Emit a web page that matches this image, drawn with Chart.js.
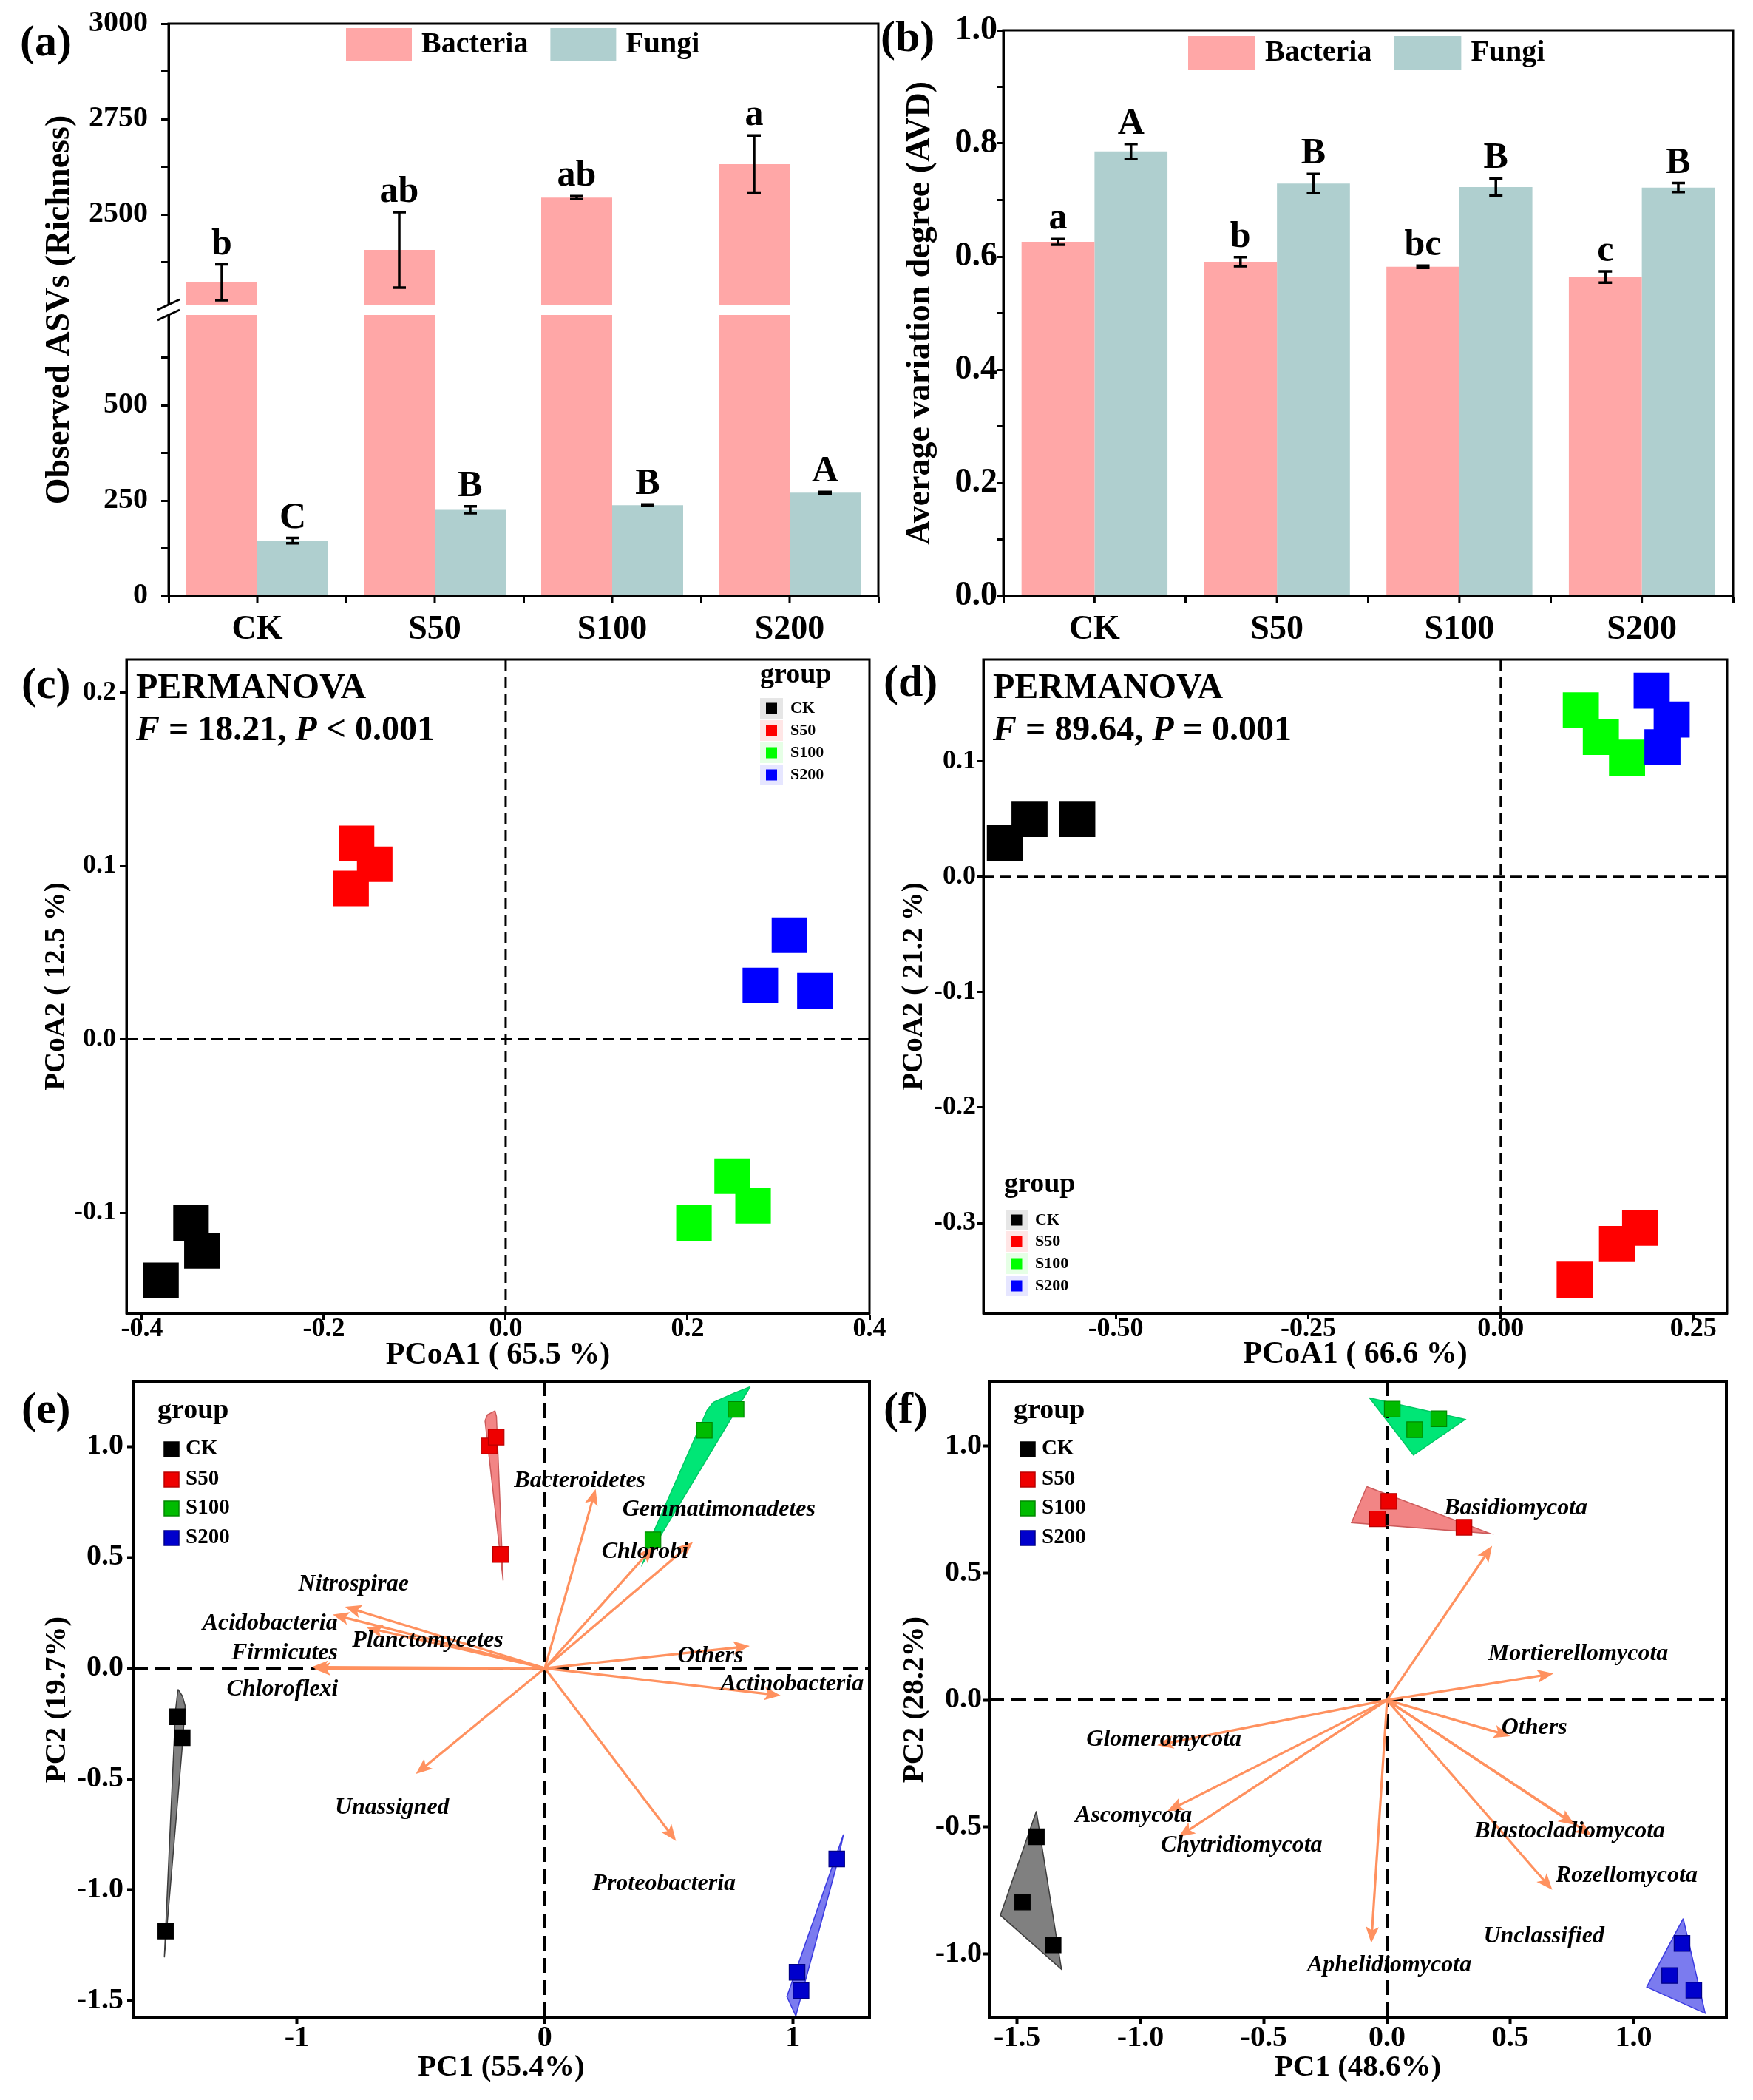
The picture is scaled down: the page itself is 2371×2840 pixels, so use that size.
<!DOCTYPE html>
<html>
<head>
<meta charset="utf-8">
<title>Bacteria and fungi: richness, AVD, PCoA and PCA</title>
<script src="https://cdn.jsdelivr.net/npm/chart.js@4.4.1/dist/chart.umd.min.js"></script>
<style>
  html, body { margin: 0; padding: 0; background: #ffffff; }
  body { position: relative; width: 2371px; height: 2840px; overflow: hidden; }
  canvas { position: absolute; }
</style>
</head>
<body>
<canvas id="cA"></canvas>
<canvas id="cB"></canvas>
<canvas id="cC"></canvas>
<canvas id="cD"></canvas>
<canvas id="cE"></canvas>
<canvas id="cF"></canvas>
<script>
/* ================= data ================= */
const groups = ['CK', 'S50', 'S100', 'S200'];
const kingdoms = ['Bacteria', 'Fungi'];

// (a) observed ASVs
const richBac = [2322, 2407, 2544, 2632];
const richBacErr = [47, 99, 4, 75];
const richBacLetters = ['b', 'ab', 'ab', 'a'];
const richFun = [145, 226, 238, 271];
const richFunErr = [7, 9, 2, 2];
const richFunLetters = ['C', 'B', 'B', 'A'];

// (b) average variation degree
const avdBac = [0.626, 0.591, 0.582, 0.564];
const avdBacErr = [0.005, 0.008, 0.002, 0.010];
const avdBacLetters = ['a', 'b', 'bc', 'c'];
const avdFun = [0.786, 0.729, 0.723, 0.722];
const avdFunErr = [0.013, 0.017, 0.015, 0.008];
const avdFunLetters = ['A', 'B', 'B', 'B'];

// (c) PCoA bacteria
const pcoaBacCK = [[-0.346, -0.106], [-0.334, -0.122], [-0.379, -0.139]];
const pcoaBacS50 = [[-0.164, 0.113], [-0.144, 0.101], [-0.170, 0.087]];
const pcoaBacS100 = [[0.249, -0.079], [0.272, -0.096], [0.207, -0.106]];
const pcoaBacS200 = [[0.312, 0.060], [0.280, 0.031], [0.340, 0.028]];
const pcoaBacXTicks = [-0.4, -0.2, 0, 0.2, 0.4];
const pcoaBacYTicks = [-0.1, 0, 0.1, 0.2];
const permBac = { F: '18.21', op: '<', P: '0.001' };

// (d) PCoA fungi
const pcoaFunCK = [[-0.644, 0.029], [-0.612, 0.050], [-0.550, 0.050]];
const pcoaFunS50 = [[0.181, -0.304], [0.151, -0.318], [0.096, -0.349]];
const pcoaFunS100 = [[0.104, 0.144], [0.130, 0.121], [0.164, 0.103]];
const pcoaFunS200 = [[0.196, 0.161], [0.222, 0.136], [0.210, 0.112]];
const pcoaFunXTicks = [-0.5, -0.25, 0, 0.25];
const pcoaFunYTicks = [-0.3, -0.2, -0.1, 0, 0.1];
const permFun = { F: '89.64', op: '=', P: '0.001' };

// (e) PCA bacteria
const pcaBacCK = [[-1.482, -0.219], [-1.462, -0.313], [-1.528, -1.185]];
const pcaBacS50 = [[-0.224, 1.002], [-0.196, 1.042], [-0.178, 0.513]];
const pcaBacS100 = [[0.643, 1.073], [0.771, 1.167], [0.436, 0.579]];
const pcaBacS200 = [[1.177, -0.860], [1.017, -1.371], [1.033, -1.454]];
const hullBacCK = [[-1.479, -0.095], [-1.461, -0.126], [-1.450, -0.170], [-1.463, -0.370], [-1.534, -1.304], [-1.489, -0.192]];
const hullBacS50 = [[-0.241, 1.116], [-0.231, 1.143], [-0.201, 1.160], [-0.195, 1.135], [-0.168, 0.396]];
const hullBacS100 = [[0.828, 1.269], [0.764, 1.241], [0.679, 1.199], [0.654, 1.163], [0.436, 0.608], [0.395, 0.474], [0.466, 0.596]];
const hullBacS200 = [[1.204, -0.750], [0.976, -1.481], [1.012, -1.568], [1.181, -0.870]];
const bacTaxa = ['Bacteroidetes', 'Gemmatimonadetes', 'Chlorobi', 'Nitrospirae', 'Acidobacteria', 'Planctomycetes', 'Firmicutes', 'Chloroflexi', 'Others', 'Actinobacteria', 'Unassigned', 'Proteobacteria'];
const bacLoadX = [0.205, 0.597, 0.438, -0.805, -0.855, -0.718, -0.940, -0.930, 0.826, 0.951, -0.520, 0.529];
const bacLoadY = [0.808, 0.569, 0.548, 0.277, 0.242, 0.183, 0.005, -0.003, 0.100, -0.123, -0.477, -0.779];
const bacLabX = [0.141, 0.702, 0.404, -0.771, -1.108, -0.472, -1.049, -1.058, 0.668, 0.997, -0.616, 0.481];
const bacLabY = [0.844, 0.715, 0.523, 0.377, 0.200, 0.125, 0.069, -0.094, 0.054, -0.073, -0.629, -0.973];
const pcaBacXTicks = [-1, 0, 1];
const pcaBacYTicks = [-1.5, -1, -0.5, 0, 0.5, 1];

// (f) PCA fungi
const pcaFunCK = [[-1.422, -0.538], [-1.479, -0.795], [-1.354, -0.964]];
const pcaFunS50 = [[0.007, 0.782], [-0.039, 0.713], [0.312, 0.680]];
const pcaFunS100 = [[0.021, 1.145], [0.112, 1.064], [0.210, 1.107]];
const pcaFunS200 = [[1.196, -0.958], [1.146, -1.084], [1.244, -1.142]];
const hullFunCK = [[-1.422, -0.438], [-1.568, -0.847], [-1.320, -1.060]];
const hullFunS50 = [[-0.082, 0.840], [-0.144, 0.698], [0.419, 0.655]];
const hullFunS100 = [[-0.071, 1.189], [0.317, 1.104], [0.107, 0.964]];
const hullFunS200 = [[1.201, -0.860], [1.053, -1.129], [1.290, -1.233]];
const funTaxa = ['Basidiomycota', 'Mortierellomycota', 'Others', 'Glomeromycota', 'Ascomycota', 'Chytridiomycota', 'Blastocladiomycota', 'Rozellomycota', 'Unclassified', 'Aphelidiomycota'];
const funLoadX = [0.426, 0.675, 0.499, -0.932, -0.891, -0.845, 0.761, 0.670, 0.830, -0.064];
const funLoadY = [0.607, 0.104, -0.142, -0.178, -0.438, -0.538, -0.491, -0.747, -0.533, -0.956];
const funLabX = [0.522, 0.775, 0.597, -0.905, -1.028, -0.590, 0.741, 0.971, 0.636, 0.009];
const funLabY = [0.755, 0.182, -0.109, -0.155, -0.456, -0.573, -0.518, -0.691, -0.929, -1.045];
const pcaFunXTicks = [-1.5, -1, -0.5, 0, 0.5, 1];
const pcaFunYTicks = [-1, -0.5, 0, 0.5, 1];

/* ================= styles ================= */
const FONT = "'Liberation Serif', 'Times New Roman', serif";
const PINK = '#FFA7A7', TEAL = '#AFCFCF';
const pcoaColors = ['#000000', '#FF0000', '#00FF00', '#0000FF'];
const pcoaKeyBg = ['#E6E6E6', '#FFE6E6', '#E6FFE6', '#E6E6FF'];
const pcaColors = ['#000000', '#EE0000', '#00BB00', '#0000CC'];
const pcaBorders = ['#000000', '#BB0000', '#008800', '#000088'];
const hullFill = ['#808080', '#F28585', '#00E676', '#7B7BEF'];
const hullLine = ['#3C3C3C', '#CC5A5A', '#00C864', '#3A3AE0'];
const ARROW = '#FF915F';

/* ================= helpers ================= */
function placeCanvas(id, b) {
  const c = document.getElementById(id);
  c.width = b.w; c.height = b.h;
  c.style.left = b.x + 'px'; c.style.top = b.y + 'px';
  c.style.width = b.w + 'px'; c.style.height = b.h + 'px';
  return c;
}
function margins(b, p) {
  return { l: p.l - b.x, t: p.t - b.y, r: b.x + b.w - p.r, b: b.y + b.h - p.b };
}
function zeroPad(s) { s.paddingTop = 0; s.paddingBottom = 0; s.paddingLeft = 0; s.paddingRight = 0; }
const fixW = w => s => { s.width = w; zeroPad(s); };
const fixH = h => s => { s.height = h; zeroPad(s); };

function txt(ctx, s, x, y, size, opt) {
  opt = opt || {};
  ctx.save();
  ctx.font = (opt.italic ? 'italic ' : '') + 'bold ' + size + 'px ' + FONT;
  ctx.fillStyle = opt.color || '#000';
  ctx.textAlign = opt.align || 'left';
  ctx.textBaseline = opt.base || 'middle';
  ctx.fillText(s, x, y);
  ctx.restore();
}
function rotText(ctx, s, x, y, size) {
  ctx.save(); ctx.translate(x, y); ctx.rotate(-Math.PI / 2);
  txt(ctx, s, 0, 0, size, { align: 'center' });
  ctx.restore();
}
function frame(chart, lw) {
  const ctx = chart.ctx, a = chart.chartArea;
  ctx.save(); ctx.strokeStyle = '#000'; ctx.lineWidth = lw;
  ctx.strokeRect(a.left, a.top, a.right - a.left, a.bottom - a.top);
  ctx.restore();
}
function zeroLines(chart, lw, dash) {
  const ctx = chart.ctx, a = chart.chartArea, x = chart.scales.x, y = chart.scales.y;
  const px = x.getPixelForValue(0), py = y.getPixelForValue(0);
  ctx.save(); ctx.strokeStyle = '#000'; ctx.lineWidth = lw; ctx.setLineDash(dash);
  ctx.beginPath();
  ctx.moveTo(px, a.top); ctx.lineTo(px, a.bottom);
  ctx.moveTo(a.left, py); ctx.lineTo(a.right, py);
  ctx.stroke(); ctx.restore();
}
function errorBars(chart, dsIndex, scale, vals, errs, letters) {
  const ctx = chart.ctx;
  const meta = chart.getDatasetMeta(dsIndex);
  ctx.save(); ctx.strokeStyle = '#000'; ctx.lineWidth = 3.5;
  meta.data.forEach((bar, i) => {
    const x = bar.x;
    const yt = scale.getPixelForValue(vals[i] + errs[i]);
    const yb = scale.getPixelForValue(vals[i] - errs[i]);
    ctx.beginPath();
    ctx.moveTo(x, yt); ctx.lineTo(x, yb);
    ctx.moveTo(x - 9, yt); ctx.lineTo(x + 9, yt);
    ctx.moveTo(x - 9, yb); ctx.lineTo(x + 9, yb);
    ctx.stroke();
    txt(ctx, letters[i], x, yt - 14, 50, { align: 'center', base: 'alphabetic' });
  });
  ctx.restore();
}
function centerTicks(chart, len) {
  const ctx = chart.ctx, a = chart.chartArea, x = chart.scales.x;
  ctx.save(); ctx.strokeStyle = '#000'; ctx.lineWidth = 3; ctx.beginPath();
  x.getLabels().forEach((l, i) => {
    const px = x.getPixelForValue(i);
    ctx.moveTo(px, a.bottom); ctx.lineTo(px, a.bottom + len);
  });
  ctx.stroke(); ctx.restore();
}
function barLegend(chart, x0, yc, bw, bh, size) {
  const ctx = chart.ctx; const seen = new Set(); let x = x0;
  chart.data.datasets.forEach(d => {
    if (seen.has(d.label)) return;
    seen.add(d.label);
    ctx.fillStyle = d.backgroundColor; ctx.fillRect(x, yc - bh / 2, bw, bh);
    x += bw + 13;
    ctx.font = 'bold ' + size + 'px ' + FONT;
    const w = ctx.measureText(d.label).width;
    txt(ctx, d.label, x, yc, size);
    x += w + 30;
  });
}
function groupLegend(ctx, x, titleBase, ys, colors, bgs, borders, o) {
  txt(ctx, 'group', x, titleBase, o.titleSize, { base: 'alphabetic' });
  groups.forEach((g, i) => {
    if (bgs) { ctx.fillStyle = bgs[i]; ctx.fillRect(x + o.kx, ys[i] - o.kh / 2, o.kw, o.kh); }
    const sx = x + o.kx + (o.kw - o.sq) / 2, sy = ys[i] - o.sq / 2;
    ctx.fillStyle = colors[i]; ctx.fillRect(sx, sy, o.sq, o.sq);
    if (borders) { ctx.strokeStyle = borders[i]; ctx.lineWidth = 1.5; ctx.strokeRect(sx, sy, o.sq, o.sq); }
    txt(ctx, g, x + o.tx, ys[i], o.itemSize);
  });
}
function permText(ctx, x, yb1, yb2, st) {
  txt(ctx, 'PERMANOVA', x, yb1, 48, { base: 'alphabetic' });
  const segs = [['F', true], [' = ' + st.F + ', ', false], ['P', true], [' ' + st.op + ' ' + st.P, false]];
  let cx = x;
  segs.forEach(([s, it]) => {
    ctx.font = (it ? 'italic ' : '') + 'bold 48px ' + FONT;
    const w = ctx.measureText(s).width;
    txt(ctx, s, cx, yb2, 48, { base: 'alphabetic', italic: it });
    cx += w;
  });
}
function arrow(ctx, x0, y0, x1, y1) {
  const ang = Math.atan2(y1 - y0, x1 - x0);
  const hl = 22, hw = 9;
  const bx = x1 - hl * Math.cos(ang), by = y1 - hl * Math.sin(ang);
  ctx.save();
  ctx.strokeStyle = ARROW; ctx.fillStyle = ARROW; ctx.lineWidth = 3.2;
  ctx.beginPath(); ctx.moveTo(x0, y0); ctx.lineTo(bx + 6 * Math.cos(ang), by + 6 * Math.sin(ang)); ctx.stroke();
  ctx.beginPath();
  ctx.moveTo(x1, y1);
  ctx.lineTo(bx + hw * Math.sin(ang), by - hw * Math.cos(ang));
  ctx.lineTo(bx + 5 * Math.cos(ang), by + 5 * Math.sin(ang));
  ctx.lineTo(bx - hw * Math.sin(ang), by + hw * Math.cos(ang));
  ctx.closePath(); ctx.fill();
  ctx.restore();
}
const toXY = arr => arr.map(p => ({ x: p[0], y: p[1] }));
const closeRing = arr => arr.concat([arr[0]]);

/* ================= bar charts ================= */
function barAxisX(mB, tl, pad) {
  return {
    type: 'category', offset: true,
    grid: { display: true, drawOnChartArea: false, offset: true, tickLength: tl, tickWidth: 3, tickColor: '#000' },
    border: { display: true, width: 3, color: '#000' },
    ticks: { font: { size: 46, weight: 'bold', lineHeight: 1 }, color: '#000', padding: pad, autoSkip: false, maxRotation: 0 },
    afterFit: fixH(mB)
  };
}

function buildA() {
  const box = { x: 0, y: 0, w: 1190, h: 880 };
  const plot = { l: 228, t: 32, r: 1188, b: 806 };
  const m = margins(box, plot);
  const LOW_MAX = 750, HIGH_MIN = 2250;
  const yCommon = {
    type: 'linear', position: 'left', stack: 'rich', stackWeight: 1, stacked: false,
    grid: { display: true, drawOnChartArea: false, tickLength: 10, tickWidth: 3, tickColor: '#000' },
    border: { display: true, width: 3, color: '#000' },
    ticks: { stepSize: 125, autoSkip: false, font: { size: 40, weight: 'bold', lineHeight: 1 }, color: '#000', padding: 18,
      callback: v => (v % 250 === 0 ? String(v) : '') },
    afterFit: fixW(m.l)
  };
  const plugin = {
    id: 'panelA',
    afterDatasetsDraw(chart) {
      const ctx = chart.ctx, a = chart.chartArea;
      const yb = chart.scales.yLow.top;
      ctx.save(); ctx.fillStyle = '#fff'; ctx.fillRect(a.left + 2, yb - 7, a.right - a.left - 4, 14); ctx.restore();
      errorBars(chart, 1, chart.scales.yHigh, richBac, richBacErr, richBacLetters);
      errorBars(chart, 2, chart.scales.yLow, richFun, richFunErr, richFunLetters);
    },
    afterDraw(chart) {
      const ctx = chart.ctx, a = chart.chartArea;
      centerTicks(chart, 9);
      frame(chart, 3);
      const yb = chart.scales.yLow.top;
      ctx.save();
      ctx.fillStyle = '#fff'; ctx.fillRect(a.left - 3, yb - 7, 6, 14);
      ctx.strokeStyle = '#000'; ctx.lineWidth = 3; ctx.beginPath();
      [-7, 7].forEach(d => { ctx.moveTo(a.left - 15, yb + d + 7); ctx.lineTo(a.left + 15, yb + d - 7); });
      ctx.stroke(); ctx.restore();
      barLegend(chart, a.left + 240, a.top + 28.5, 89, 45, 40);
      rotText(ctx, 'Observed ASVs (Richness)', 81, (a.top + a.bottom) / 2, 46);
      txt(ctx, '(a)', 27, 59, 60);
    }
  };
  return new Chart(placeCanvas('cA', box), {
    type: 'bar',
    data: {
      labels: groups,
      datasets: [
        { label: kingdoms[0], data: richBac.map(v => [0, Math.min(v, LOW_MAX)]), yAxisID: 'yLow', stack: 'bac', backgroundColor: PINK },
        { label: kingdoms[0], data: richBac.map(v => [HIGH_MIN, v]), yAxisID: 'yHigh', stack: 'bac', backgroundColor: PINK },
        { label: kingdoms[1], data: richFun, yAxisID: 'yLow', stack: 'fun', backgroundColor: TEAL }
      ]
    },
    options: {
      responsive: false, animation: false,
      layout: { autoPadding: false, padding: { left: 0, top: m.t, right: m.r, bottom: 0 } },
      datasets: { bar: { categoryPercentage: 0.8, barPercentage: 1.0, borderWidth: 0 } },
      plugins: { legend: { display: false }, tooltip: { enabled: false } },
      scales: {
        x: barAxisX(m.b, 9, 14),
        yLow: Object.assign({}, yCommon, { min: 0, max: LOW_MAX,
          afterBuildTicks: s => { s.ticks = s.ticks.filter(t => t.value !== LOW_MAX); } }),
        yHigh: Object.assign({}, yCommon, { min: HIGH_MIN, max: 3000,
          afterBuildTicks: s => { s.ticks = s.ticks.filter(t => t.value !== HIGH_MIN); } })
      }
    },
    plugins: [plugin]
  });
}

function buildB() {
  const box = { x: 1185, y: 0, w: 1186, h: 880 };
  const plot = { l: 1357, t: 41, r: 2344, b: 806 };
  const m = margins(box, plot);
  const plugin = {
    id: 'panelB',
    afterDatasetsDraw(chart) {
      errorBars(chart, 0, chart.scales.y, avdBac, avdBacErr, avdBacLetters);
      errorBars(chart, 1, chart.scales.y, avdFun, avdFunErr, avdFunLetters);
    },
    afterDraw(chart) {
      const a = chart.chartArea;
      centerTicks(chart, 9);
      frame(chart, 3);
      barLegend(chart, a.left + 250, a.top + 30.5, 91, 45, 40);
      txt(chart.ctx, '(b)', 1191 - box.x, 53, 60);
    }
  };
  return new Chart(placeCanvas('cB', box), {
    type: 'bar',
    data: {
      labels: groups,
      datasets: [
        { label: kingdoms[0], data: avdBac, backgroundColor: PINK },
        { label: kingdoms[1], data: avdFun, backgroundColor: TEAL }
      ]
    },
    options: {
      responsive: false, animation: false,
      layout: { autoPadding: false, padding: { left: 0, top: m.t, right: m.r, bottom: 0 } },
      datasets: { bar: { categoryPercentage: 0.8, barPercentage: 1.0, borderWidth: 0 } },
      plugins: { legend: { display: false }, tooltip: { enabled: false } },
      scales: {
        x: barAxisX(m.b, 9, 14),
        y: {
          type: 'linear', min: 0, max: 1,
          grid: { display: true, drawOnChartArea: false, tickLength: 8, tickWidth: 3, tickColor: '#000' },
          border: { display: true, width: 3, color: '#000' },
          ticks: { stepSize: 0.1, autoSkip: false, font: { size: 46, weight: 'bold', lineHeight: 1 }, color: '#000', padding: 0,
            callback: v => (Math.round(v * 10) % 2 === 0 ? v.toFixed(1) : '') },
          title: { display: true, text: 'Average variation degree (AVD)', color: '#000',
            font: { size: 46, weight: 'bold' }, padding: { top: 1245 - box.x - 27.6, bottom: 0 } },
          afterFit: fixW(m.l)
        }
      }
    },
    plugins: [plugin]
  });
}

/* ================= scatter charts ================= */
function makeScatter(id, box, plot, o) {
  const m = margins(box, plot);
  const axis = (tl, lw) => ({
    grid: { display: true, drawOnChartArea: false, drawTicks: true, tickLength: tl, tickWidth: lw, tickColor: '#000' },
    border: { display: true, width: lw, color: '#000' }
  });
  const xt = o.xTitleSize, yt = o.yTitleSize;
  return new Chart(placeCanvas(id, box), {
    type: 'scatter',
    data: { datasets: o.datasets },
    options: {
      responsive: false, animation: false,
      layout: { autoPadding: false, padding: { left: 0, top: m.t, right: m.r, bottom: 0 } },
      plugins: { legend: { display: false }, tooltip: { enabled: false }, filler: { drawTime: 'beforeDatasetsDraw' } },
      scales: {
        x: Object.assign(axis(o.tl, o.lw), {
          type: 'linear', position: 'bottom', min: o.xMin, max: o.xMax,
          ticks: { autoSkip: false, font: { size: o.tickSize, weight: 'bold', lineHeight: 1 }, color: '#000', padding: o.xPad, callback: o.xFmt },
          afterBuildTicks: s => { s.ticks = o.xTicks.map(v => ({ value: v })); },
          title: { display: true, text: o.xTitle, color: '#000', font: { size: xt, weight: 'bold' },
            padding: { top: 0, bottom: (box.y + box.h) - o.xTitleY - xt * 0.6 } },
          afterFit: fixH(m.b)
        }),
        y: Object.assign(axis(o.tl, o.lw), {
          type: 'linear', position: 'left', min: o.yMin, max: o.yMax,
          ticks: { autoSkip: false, font: { size: o.tickSize, weight: 'bold', lineHeight: 1 }, color: '#000', padding: o.yPad, callback: o.yFmt },
          afterBuildTicks: s => { s.ticks = o.yTicks.map(v => ({ value: v })); },
          title: { display: true, text: o.yTitle, color: '#000', font: { size: yt, weight: 'bold' },
            padding: { top: o.yTitleX - box.x - yt * 0.6, bottom: 0 } },
          afterFit: fixW(m.l)
        })
      }
    },
    plugins: [o.plugin]
  });
}

function pcoaSets(groupsPts, r) {
  return groupsPts.map((pts, i) => ({
    label: groups[i], data: toXY(pts), pointStyle: 'rect', pointRadius: r, pointHoverRadius: r,
    backgroundColor: pcoaColors[i], borderWidth: 0, order: 4 - i
  }));
}
function pcaSets(groupsPts, hulls) {
  const pts = groupsPts.map((p, i) => ({
    label: groups[i], data: toXY(p), pointStyle: 'rect', pointRadius: 15, pointHoverRadius: 15,
    backgroundColor: pcaColors[i], borderColor: pcaBorders[i], borderWidth: 1.2, order: 4 - i
  }));
  const polys = hulls.map((h, i) => ({
    label: groups[i] + ' hull', data: toXY(closeRing(h)), showLine: true, fill: 'shape', tension: 0,
    backgroundColor: hullFill[i], borderColor: hullLine[i], borderWidth: 1.5, pointRadius: 0, pointHoverRadius: 0, order: 10
  }));
  return pts.concat(polys);
}

function buildC() {
  const box = { x: 0, y: 880, w: 1200, h: 986 };
  const plot = { l: 171, t: 892, r: 1176, b: 1776 };
  const plugin = {
    id: 'panelC',
    beforeDatasetsDraw(chart) { zeroLines(chart, 3, [15, 8]); },
    afterDraw(chart) {
      const ctx = chart.ctx, a = chart.chartArea;
      frame(chart, 3);
      permText(ctx, a.left + 13, a.top + 52, a.top + 109, permBac);
      groupLegend(ctx, a.right - 148, a.top + 31, [66, 96, 126, 156].map(d => a.top + d), pcoaColors, pcoaKeyBg, null,
        { titleSize: 38, itemSize: 22, kx: 0, kw: 31, kh: 28, sq: 15, tx: 41 });
      txt(ctx, '(c)', 29, 928 - box.y, 60);
    }
  };
  return makeScatter('cC', box, plot, {
    datasets: pcoaSets([pcoaBacCK, pcoaBacS50, pcoaBacS100, pcoaBacS200], 34),
    xMin: -0.417, xMax: 0.4, yMin: -0.158, yMax: 0.219,
    xTicks: pcoaBacXTicks, yTicks: pcoaBacYTicks,
    xFmt: v => v.toFixed(1), yFmt: v => v.toFixed(1),
    tl: 9, lw: 3, tickSize: 36, xPad: -5, yPad: 5,
    xTitle: 'PCoA1 ( 65.5 %)', yTitle: 'PCoA2 ( 12.5 %)', xTitleSize: 42, yTitleSize: 39,
    xTitleY: 1833, yTitleX: 77, plugin
  });
}

function buildD() {
  const box = { x: 1185, y: 880, w: 1186, h: 986 };
  const plot = { l: 1330, t: 892, r: 2336, b: 1776 };
  const plugin = {
    id: 'panelD',
    beforeDatasetsDraw(chart) { zeroLines(chart, 3, [15, 8]); },
    afterDraw(chart) {
      const ctx = chart.ctx, a = chart.chartArea;
      frame(chart, 3);
      permText(ctx, a.left + 13, a.top + 52, a.top + 109, permFun);
      groupLegend(ctx, a.left + 28, a.bottom - 164, [-126, -97, -67, -37].map(d => a.bottom + d), pcoaColors, pcoaKeyBg, null,
        { titleSize: 38, itemSize: 22, kx: 2, kw: 30, kh: 28, sq: 15, tx: 42 });
      txt(ctx, '(d)', 1195 - box.x, 925 - box.y, 60);
    }
  };
  return makeScatter('cD', box, plot, {
    datasets: pcoaSets([pcoaFunCK, pcoaFunS50, pcoaFunS100, pcoaFunS200], 34.5),
    xMin: -0.672, xMax: 0.294, yMin: -0.378, yMax: 0.188,
    xTicks: pcoaFunXTicks, yTicks: pcoaFunYTicks,
    xFmt: v => v.toFixed(2), yFmt: v => v.toFixed(1),
    tl: 8, lw: 3, tickSize: 36, xPad: -4, yPad: 2,
    xTitle: 'PCoA1 ( 66.6 %)', yTitle: 'PCoA2 ( 21.2 %)', xTitleSize: 42, yTitleSize: 39,
    xTitleY: 1832, yTitleX: 1237, plugin
  });
}

function biplotPlugin(id, label, lx, ly, names, loadX, loadY, labX, labY) {
  return {
    id: id,
    beforeDatasetsDraw(chart) { zeroLines(chart, 4, [20, 10]); },
    afterDatasetsDraw(chart) {
      const ctx = chart.ctx, x = chart.scales.x, y = chart.scales.y;
      const x0 = x.getPixelForValue(0), y0 = y.getPixelForValue(0);
      names.forEach((n, i) => arrow(ctx, x0, y0, x.getPixelForValue(loadX[i]), y.getPixelForValue(loadY[i])));
      names.forEach((n, i) => txt(ctx, n, x.getPixelForValue(labX[i]), y.getPixelForValue(labY[i]), 32, { italic: true, align: 'center' }));
    },
    afterDraw(chart) {
      const ctx = chart.ctx, a = chart.chartArea;
      frame(chart, 4);
      groupLegend(ctx, a.left + 33, a.top + 50, [92, 133, 172, 212].map(d => a.top + d), pcaColors, null, pcaBorders,
        { titleSize: 38, itemSize: 29, kx: 9, kw: 20, kh: 20, sq: 20, tx: 38 });
      txt(ctx, label, lx, ly, 60);
    }
  };
}

function buildE() {
  const box = { x: 0, y: 1858, w: 1200, h: 982 };
  const plot = { l: 180, t: 1868, r: 1176, b: 2729 };
  return makeScatter('cE', box, plot, {
    datasets: pcaSets([pcaBacCK, pcaBacS50, pcaBacS100, pcaBacS200], [hullBacCK, hullBacS50, hullBacS100, hullBacS200]),
    xMin: -1.660, xMax: 1.309, yMin: -1.577, yMax: 1.294,
    xTicks: pcaBacXTicks, yTicks: pcaBacYTicks,
    xFmt: v => String(v), yFmt: v => v.toFixed(1),
    tl: 8, lw: 4, tickSize: 40, xPad: 0, yPad: 5,
    xTitle: 'PC1 (55.4%)', yTitle: 'PC2 (19.7%)', xTitleSize: 41, yTitleSize: 41,
    xTitleY: 2796, yTitleX: 77,
    plugin: biplotPlugin('panelE', '(e)', 29, 1908 - box.y, bacTaxa, bacLoadX, bacLoadY, bacLabX, bacLabY)
  });
}

function buildF() {
  const box = { x: 1185, y: 1858, w: 1186, h: 982 };
  const plot = { l: 1338, t: 1868, r: 2335, b: 2729 };
  return makeScatter('cF', box, plot, {
    datasets: pcaSets([pcaFunCK, pcaFunS50, pcaFunS100, pcaFunS200], [hullFunCK, hullFunS50, hullFunS100, hullFunS200]),
    xMin: -1.613, xMax: 1.376, yMin: -1.251, yMax: 1.2545,
    xTicks: pcaFunXTicks, yTicks: pcaFunYTicks,
    xFmt: v => v.toFixed(1), yFmt: v => v.toFixed(1),
    tl: 8, lw: 4, tickSize: 40, xPad: 0, yPad: 2,
    xTitle: 'PC1 (48.6%)', yTitle: 'PC2 (28.2%)', xTitleSize: 41, yTitleSize: 41,
    xTitleY: 2796, yTitleX: 1237,
    plugin: biplotPlugin('panelF', '(f)', 1195 - box.x, 1908 - box.y, funTaxa, funLoadX, funLoadY, funLabX, funLabY)
  });
}

function buildAll() {
  Chart.defaults.font.family = FONT;
  Chart.defaults.font.weight = 'bold';
  Chart.defaults.color = '#000';
  buildA(); buildB(); buildC(); buildD(); buildE(); buildF();
}
const fontLoads = document.fonts && document.fonts.load
  ? Promise.all([
      document.fonts.load('bold 40px "Liberation Serif"'),
      document.fonts.load('italic bold 32px "Liberation Serif"')
    ])
  : Promise.resolve();
fontLoads.then(buildAll, buildAll);
</script>
</body>
</html>
